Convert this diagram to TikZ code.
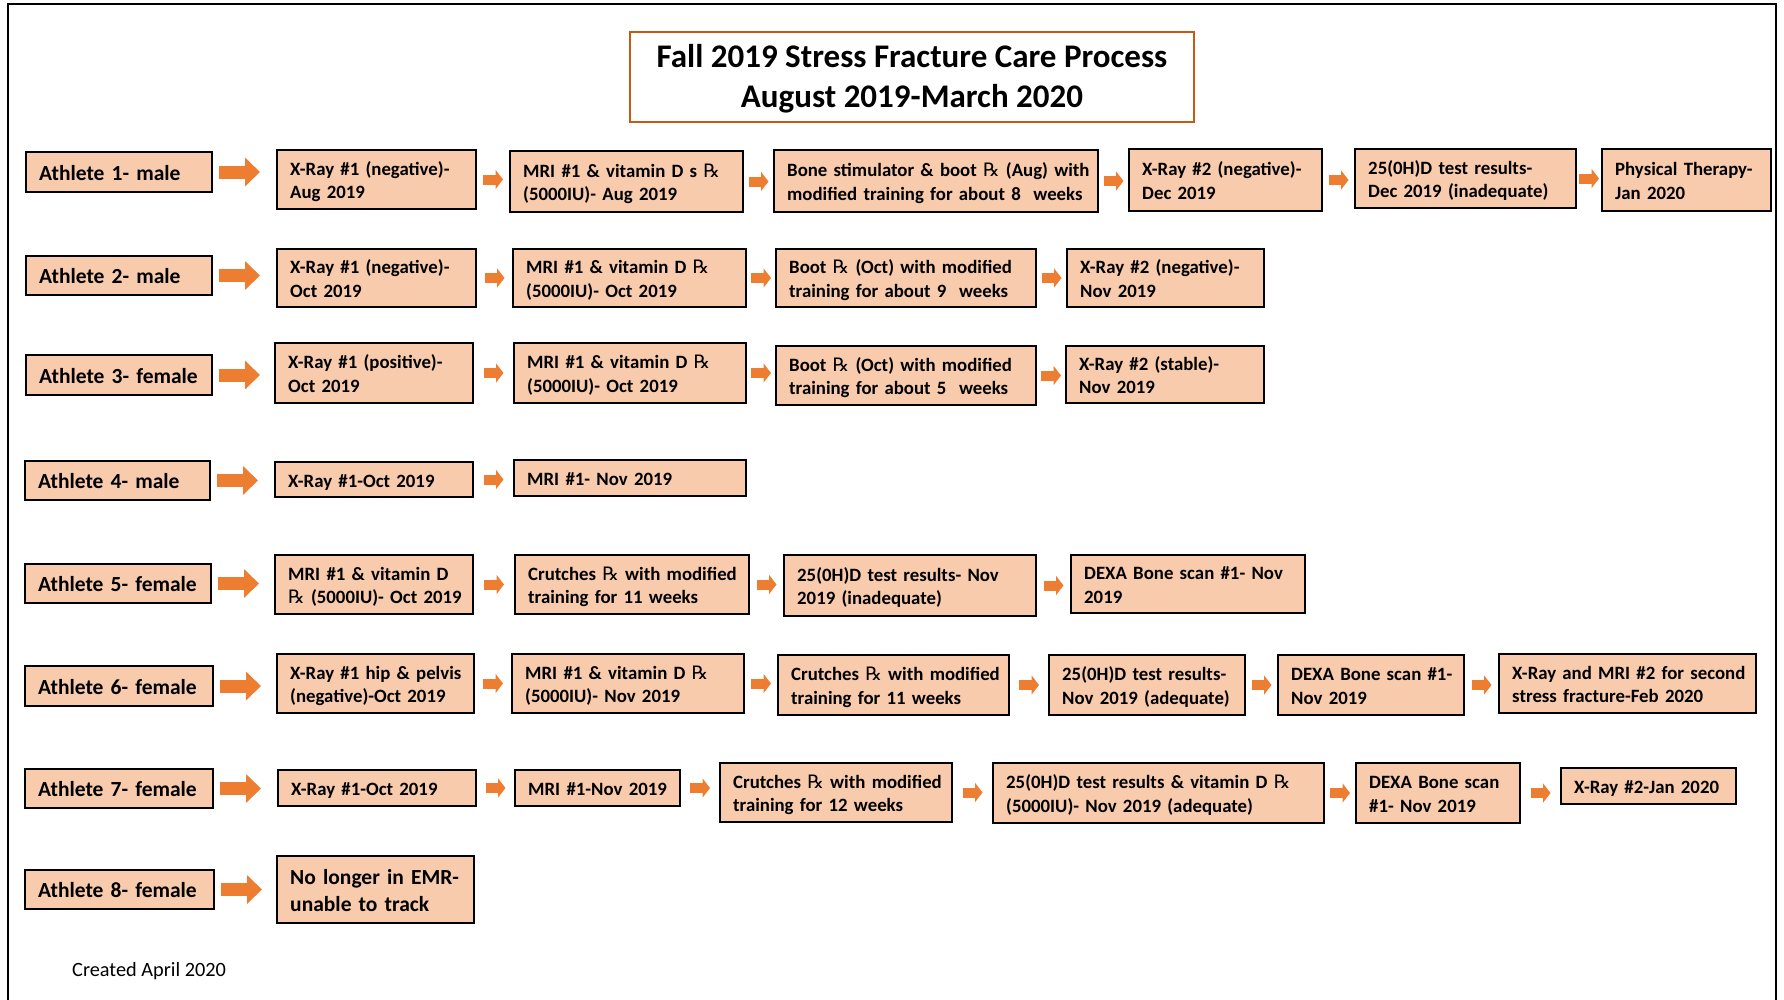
\documentclass[tikz,border=0pt]{standalone}
\usepackage{fontspec}
\setmainfont{Carlito}
\newfontfamily\rxfont{DejaVu Sans}
\usetikzlibrary{arrows.meta,calc}
\definecolor{boxfill}{HTML}{F8CBAD}
\definecolor{arrcol}{HTML}{ED7D31}
\definecolor{titleline}{HTML}{C55A11}
\newcommand\rx{{\rxfont\mdseries\fontsize{18.5}{20}\selectfont ℞}}
\newcommand\lowered[1]{\raisebox{-2.8pt}[\height][\depth]{#1}}
\tikzset{
  box/.style={draw=black, line width=2.4pt, fill=boxfill, align=left, inner xsep=13pt, inner ysep=0pt,
    font=\bfseries\fontsize{18.8}{23.5}\selectfont},
  lab/.style={box, font=\bfseries\fontsize{21.5}{26}\selectfont},
  bigbox/.style={box, font=\bfseries\fontsize{21.5}{27}\selectfont},
  bigarr/.style={draw=arrcol, line width=13pt, -{Triangle[length=15pt,width=28pt]}},
  smallarr/.style={draw=arrcol, line width=10pt, -{Triangle[length=7.5pt,width=19pt]}},
  titlebox/.style={draw=titleline, line width=2pt, align=center, font=\bfseries\fontsize{33}{40}\selectfont},
  note/.style={font=\fontsize{20.3}{24}\selectfont, inner sep=0pt},
  frame/.style={draw=black, line width=2pt}
}
% box: [style]{name}{x1}{y1}{x2}{y2}{text}
\newcommand\bx[7][box]{%
  \pgfmathsetmacro\bw{#5-#3-2.4}%
  \pgfmathsetmacro\bh{#6-#4-2.4}%
  \pgfmathsetmacro\tw{#5-#3-28.4}%
  \node[#1, minimum width=\bw pt, minimum height=\bh pt, text width=\tw pt] (#2) at ({(#3+#5)/2},{(#4+#6)/2})
    {\lowered{\begin{tabular}{@{}l@{}}#7\end{tabular}}};}
\newcommand\bigc[2]{\draw[bigarr] ([xshift=6pt]#1.east) coordinate (s-#1) -- ([xshift=47pt]#1.east) coordinate (e-#1);}
\newcommand\sarr[2]{%
  \path (#1.east) -- (#1.east -| #2.west) coordinate[pos=.5] (m-#1-#2);
  \draw[smallarr] ([xshift=-10pt]m-#1-#2) -- ([xshift=10pt]m-#1-#2);}
\begin{document}
\begin{tikzpicture}[x=1pt,y=-1pt]
\useasboundingbox (0,0) rectangle (1784,999);
\draw[frame] (8,1005) -- (8,4) -- (1776,4) -- (1776,1005);
\node[titlebox, minimum width=564, minimum height=90] (title) at (912,77)
  {\lowered{\begin{tabular}{@{}c@{}}Fall 2019 Stress Fracture Care Process\\August 2019-March 2020\end{tabular}}};
% Row 1
\bx[lab]{a1}{25}{151}{213}{193}{Athlete 1- male}
\bx{b11}{276}{149}{477}{210}{X-Ray \#1 (negative)-\\Aug 2019}
\bx{b12}{509}{150}{744}{213}{MRI \#1 \& vitamin D s \rx\\(5000IU)- Aug 2019}
\bx{b13}{773}{149}{1099}{213}{Bone stimulator \& boot \rx{} (Aug) with\\modified training for about 8 \ weeks}
\bx{b14}{1128}{148}{1323}{212}{X-Ray \#2 (negative)-\\Dec 2019}
\bx{b15}{1354}{148}{1577}{209}{25(0H)D test results-\\Dec 2019 (inadequate)}
\bx{b16}{1601}{148}{1772}{212}{Physical Therapy-\\Jan 2020}
\bigc{a1}{b11}
\sarr{b11}{b12}\sarr{b12}{b13}\sarr{b13}{b14}\sarr{b14}{b15}\sarr{b15}{b16}
% Row 2
\bx[lab]{a2}{25}{255}{213}{296}{Athlete 2- male}
\bx{b21}{276}{248}{477}{308}{X-Ray \#1 (negative)-\\Oct 2019}
\bx{b22}{512}{248}{747}{308}{MRI \#1 \& vitamin D \rx\\(5000IU)- Oct 2019}
\bx{b23}{775}{248}{1037}{308}{Boot \rx{} (Oct) with modified\\training for about 9 \ weeks}
\bx{b24}{1066}{248}{1265}{308}{X-Ray \#2 (negative)-\\Nov 2019}
\bigc{a2}{b21}
\sarr{b21}{b22}\sarr{b22}{b23}\sarr{b23}{b24}
% Row 3
\bx[lab]{a3}{25}{354}{213}{396}{Athlete 3- female}
\bx{b31}{274}{342}{474}{404}{X-Ray \#1 (positive)-\\Oct 2019}
\bx{b32}{513}{342}{747}{404}{MRI \#1 \& vitamin D \rx\\(5000IU)- Oct 2019}
\bx{b33}{775}{345}{1037}{406}{Boot \rx{} (Oct) with modified\\training for about 5 \ weeks}
\bx{b34}{1065}{345}{1265}{404}{X-Ray \#2 (stable)-\\Nov 2019}
\bigc{a3}{b31}
\sarr{b31}{b32}\sarr{b32}{b33}\sarr{b33}{b34}
% Row 4
\bx[lab]{a4}{24}{460}{211}{501}{Athlete 4- male}
\bx{b41}{274}{461}{474}{498}{X-Ray \#1-Oct 2019}
\bx{b42}{513}{459}{747}{497}{MRI \#1- Nov 2019}
\bigc{a4}{b41}
\sarr{b41}{b42}
% Row 5
\bx[lab]{a5}{24}{563}{212}{604}{Athlete 5- female}
\bx{b51}{274}{554}{474}{615}{MRI \#1 \& vitamin D\\\rx{} (5000IU)- Oct 2019}
\bx{b52}{514}{554}{750}{615}{Crutches \rx{} with modified\\training for 11 weeks}
\bx{b53}{783}{554}{1037}{617}{25(0H)D test results- Nov\\2019 (inadequate)}
\bx{b54}{1070}{554}{1306}{614}{DEXA Bone scan \#1- Nov\\2019}
\bigc{a5}{b51}
\sarr{b51}{b52}\sarr{b52}{b53}\sarr{b53}{b54}
% Row 6
\bx[lab]{a6}{24}{665}{214}{707}{Athlete 6- female}
\bx{b61}{276}{653}{475}{714}{X-Ray \#1 hip \& pelvis\\(negative)-Oct 2019}
\bx{b62}{511}{653}{745}{714}{MRI \#1 \& vitamin D \rx\\(5000IU)- Nov 2019}
\bx{b63}{777}{654}{1010}{716}{Crutches \rx{} with modified\\training for 11 weeks}
\bx{b64}{1048}{654}{1246}{716}{25(0H)D test results-\\Nov 2019 (adequate)}
\bx{b65}{1277}{654}{1465}{716}{DEXA Bone scan \#1-\\Nov 2019}
\bx{b66}{1498}{653}{1757}{714}{X-Ray and MRI \#2 for second\\stress fracture-Feb 2020}
\bigc{a6}{b61}
\sarr{b61}{b62}\sarr{b62}{b63}\sarr{b63}{b64}\sarr{b64}{b65}\sarr{b65}{b66}
% Row 7
\bx[lab]{a7}{24}{768}{214}{809}{Athlete 7- female}
\bx{b71}{277}{769}{477}{807}{X-Ray \#1-Oct 2019}
\bx{b72}{514}{769}{681}{807}{MRI \#1-Nov 2019}
\bx{b73}{719}{762}{953}{823}{Crutches \rx{} with modified\\training for 12 weeks}
\bx{b74}{992}{762}{1325}{824}{25(0H)D test results \& vitamin D \rx\\(5000IU)- Nov 2019 (adequate)}
\bx{b75}{1355}{762}{1521}{824}{DEXA Bone scan\\\#1- Nov 2019}
\bx{b76}{1560}{767}{1737}{805}{X-Ray \#2-Jan 2020}
\bigc{a7}{b71}
\sarr{b71}{b72}\sarr{b72}{b73}\sarr{b73}{b74}\sarr{b74}{b75}\sarr{b75}{b76}
% Row 8
\bx[lab]{a8}{24}{869}{215}{910}{Athlete 8- female}
\bx[bigbox]{b81}{276}{855}{475}{924}{No longer in EMR-\\unable to track}
\bigc{a8}{b81}
% note
\node[note, anchor=west] (created) at (72,971) {Created April 2020};
\end{tikzpicture}
\end{document}
